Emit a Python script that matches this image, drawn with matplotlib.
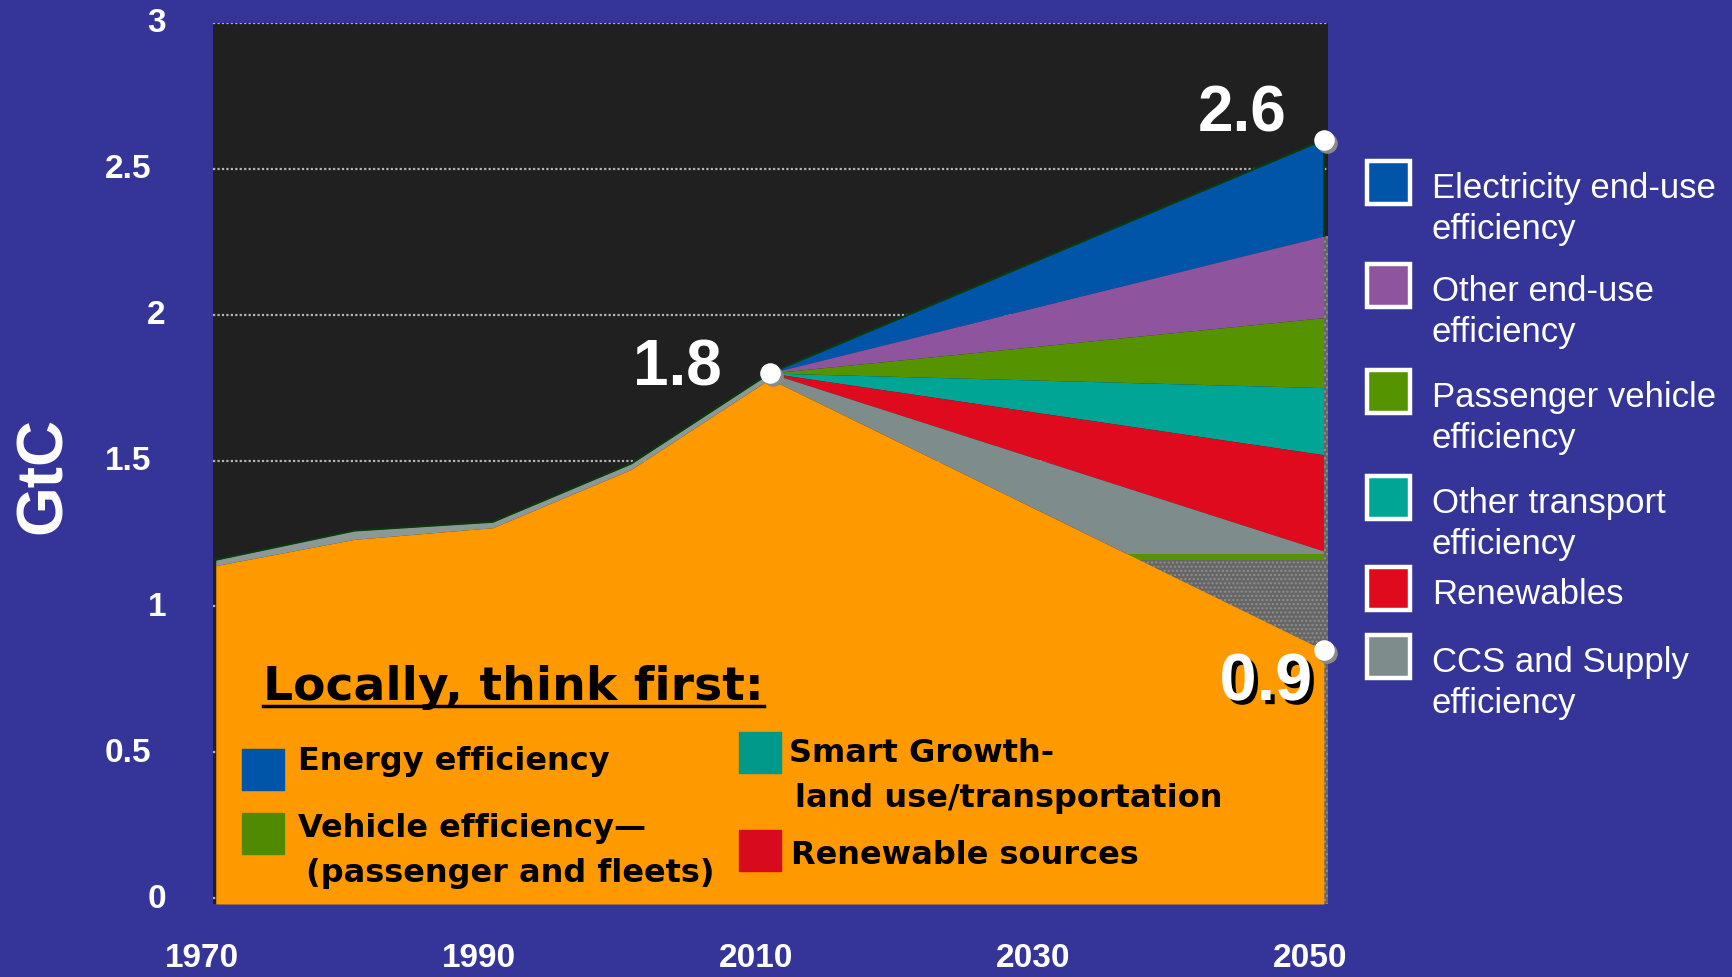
import matplotlib
matplotlib.use("Agg")
import matplotlib.pyplot as plt
import matplotlib.patheffects as pe
from matplotlib.patches import Rectangle
from matplotlib.lines import Line2D
from matplotlib.transforms import blended_transform_factory, ScaledTranslation

# ---- data (GtC) ----
hist_years = [1970, 1980, 1990, 2000, 2010]
hist_local = [1.14, 1.23, 1.27, 1.47, 1.78]     # orange "locally" area
hist_total = [1.16, 1.26, 1.29, 1.49, 1.80]     # total incl. thin grey band

proj_years = [2010, 2050]
total_2010 = 1.80
local_2050 = 0.85
# upper edge of every wedge in 2050, from the top down
wedge_names = ["Electricity end-use\nefficiency", "Other end-use\nefficiency",
               "Passenger vehicle\nefficiency", "Other transport\nefficiency",
               "Renewables", "CCS and Supply\nefficiency"]
wedge_tops = [2.60, 2.27, 1.99, 1.75, 1.52, 1.19]
wedge_colors = ["#0055a8", "#8e559e", "#559300", "#00a596", "#e00a1e", "#7f8c8c"]
green_floor = 1.18
dots_floor = 1.16

point_x = [2010, 2050, 2050]
point_y = [total_2010, wedge_tops[0], local_2050]
point_text = ["1.8", "2.6", "0.9"]

y_ticks = [0, 0.5, 1, 1.5, 2, 2.5, 3]
y_tick_labels = ["0", "0.5", "1", "1.5", "2", "2.5", "3"]
x_ticks = [1970, 1990, 2010, 2030, 2050]

local_items = [("Energy efficiency", "#0055a8"),
               ("Vehicle efficiency\u2014\n(passenger and fleets)", "#4f8a00"),
               ("Smart Growth-\nland use/transportation", "#00998a"),
               ("Renewable sources", "#d80a1e")]

BG = "#353599"
W, H = 1733, 978
ARIAL = ["Liberation Sans", "DejaVu Sans"]
TAHOMA = ["DejaVu Sans"]


def fx(px):
    return px / W


def fy(py):
    return 1 - py / H


fig = plt.figure(figsize=(W / 100, H / 100), dpi=100, facecolor=BG)
ax = fig.add_axes([fx(213), fy(905), fx(1328) - fx(213), fy(24) - fy(905)])
ax.set_facecolor("#202020")
ax.set_xlim(1969.8, 2050.3)
ax.set_ylim(-0.02, 3.0)
for s in ax.spines.values():
    s.set_visible(False)
ax.set_xticks([])
ax.set_yticks(y_ticks)
ax.tick_params(axis="y", length=0, labelleft=False)
ax.grid(axis="y", color="#b4b4b4", linestyle=(0, (1, 1)), linewidth=1.6)
ax.set_axisbelow(True)

# wedges 2010 -> 2050
for i, top in enumerate(wedge_tops):
    if i + 1 < len(wedge_tops):
        low = [total_2010, wedge_tops[i + 1]]
    else:
        low = [hist_local[-1], local_2050]
    ax.fill_between(proj_years, low, [total_2010, top], color=wedge_colors[i],
                    linewidth=0, zorder=2)

# textured band under the wedges, and thin green strip
ax.fill_between([2010, 2050.3], -0.02, dots_floor, facecolor="#666666",
                edgecolor="#909090", hatch="....", linewidth=0, zorder=3)
ax.fill_between([2010, 2050], dots_floor, green_floor, color="#559300",
                linewidth=0, zorder=3)
ax.fill_between([2050, 2050.3], dots_floor, wedge_tops[1], facecolor="#666666",
                edgecolor="#909090", hatch="....", linewidth=0, zorder=3)

# historical grey band and orange "locally" area
ax.fill_between(hist_years, hist_local, hist_total, color="#8a9898", linewidth=0, zorder=3)
ax.fill_between(hist_years + [2050], -0.02, hist_local + [local_2050],
                color="#ff9900", linewidth=0, zorder=4, clip_on=False)
ax.plot(hist_years + [2050], hist_total + [wedge_tops[0]], color="#0b3a0b", lw=1.4, zorder=5)
ax.plot([2050, 2050], wedge_tops[:2], color="#0b3a0b", lw=1.4, zorder=5)

# white markers with a shadow
shadow = ax.transData + ScaledTranslation(3 / 100, -3 / 100, fig.dpi_scale_trans)
ax.scatter(point_x, point_y, s=190, color="#8a8a8a", transform=shadow, zorder=6, clip_on=False)
ax.scatter(point_x, point_y, s=190, color="white", zorder=7, clip_on=False)

# point labels
fig.text(fx(722), fy(369), point_text[0], color="white", fontsize=46, fontweight="bold",
         family=ARIAL, ha="right", va="center")
fig.text(fx(1287), fy(114), point_text[1], color="white", fontsize=46, fontweight="bold",
         family=ARIAL, ha="right", va="center")
fig.text(fx(1312), fy(684), point_text[2], color="white", fontsize=48, fontweight="bold",
         family=ARIAL, ha="right", va="center", zorder=10,
         path_effects=[pe.withSimplePatchShadow(offset=(3, -3), shadow_rgbFace="black", alpha=1)])

# tick labels
ytr = blended_transform_factory(fig.transFigure, ax.transData)
for v, lab in zip(y_ticks, y_tick_labels):
    xr = 151 if "." in lab else 166
    ax.text(fx(xr), v, lab, transform=ytr, color="white", fontsize=24, fontweight="bold",
            family=ARIAL, ha="right", va="center")
xtr = blended_transform_factory(ax.transData + ScaledTranslation(-14 / 100, 0, fig.dpi_scale_trans),
                                fig.transFigure)
for yr in x_ticks:
    ax.text(yr, fy(959), str(yr), transform=xtr, color="white", fontsize=24, fontweight="bold",
            family=ARIAL, ha="center", va="center", clip_on=False)

fig.text(fx(44), fy(475), "GtC", rotation=90, color="white", fontsize=46, fontweight="bold",
         family=ARIAL, ha="center", va="center")

# "Locally, think first:" box contents
title = fig.text(fx(263), fy(700), "Locally, think first:", color="black", fontsize=34,
                 fontweight="bold", family=TAHOMA, ha="left", va="baseline", zorder=10)
fig.canvas.draw()
bb = title.get_window_extent()
fig.add_artist(Line2D([bb.x0 / W, bb.x1 / W], [fy(707), fy(707)], color="black", lw=2.5,
                      transform=fig.transFigure, zorder=10))

# square x, square top, text x, text top, second-line indent
local_pos = [(242, 750, 298, 746, 0), (242, 814, 298, 813, 8), (739, 733, 789, 738, 6),
             (739, 831, 791, 840, 0)]
for (txt, col), (sx, sy, tx, ty, ind) in zip(local_items, local_pos):
    fig.add_artist(Rectangle((fx(sx), fy(sy + 41)), 42 / W, 41 / H, color=col,
                             transform=fig.transFigure, zorder=10))
    for k, line in enumerate(txt.split("\n")):
        fig.text(fx(tx + (ind if k else 0)), fy(ty + 45 * k), line, color="black", fontsize=23,
                 fontweight="bold", family=TAHOMA, ha="left", va="top", zorder=10)

# right legend
legend_tops = [162, 265, 371, 477, 568, 636]
for name, col, top in zip(wedge_names, wedge_colors, legend_tops):
    fig.add_artist(Rectangle((fx(1367), fy(top + 43)), 43 / W, 43 / H, facecolor=col,
                             edgecolor="white", linewidth=3.2, transform=fig.transFigure))
    fig.text(fx(1432), fy(top + 10), name, color="white", fontsize=25, family=ARIAL,
             ha="left", va="top", linespacing=1.3)

fig.savefig("out.png", dpi=100, facecolor=BG)
